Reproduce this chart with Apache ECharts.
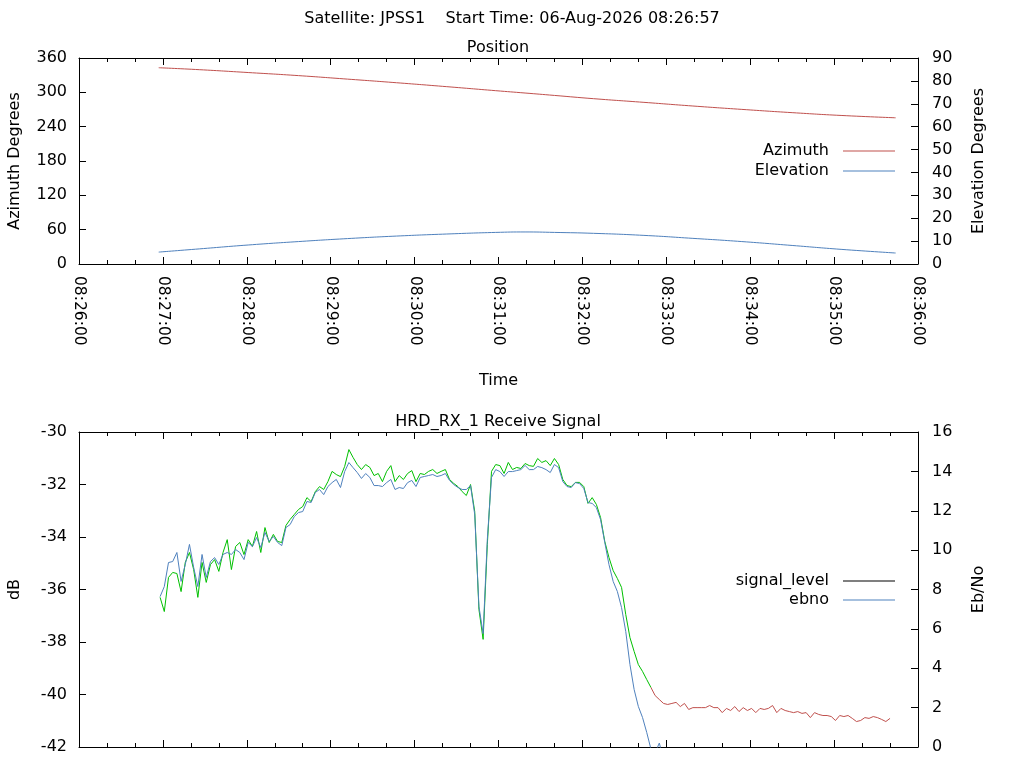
<!DOCTYPE html>
<html>
<head>
<meta charset="utf-8">
<title>JPSS1 pass</title>
<script src="https://cdn.jsdelivr.net/npm/echarts@6/dist/echarts.min.js"></script>
<style>
html, body { margin: 0; padding: 0; background: #fff; }
#chart { width: 1024px; height: 768px; }
</style>
</head>
<body>
<div id="chart"></div>
<script>
// pass of 06-Aug-2026, plot window 08:26:00 - 08:36:00
var passDate = [2026, 7, 6];
var axisStart = '08:26:00';
var axisEnd = '08:36:00';

// antenna position
var posTimes = ['08:26:57', '08:27:26', '08:28:01', '08:28:37', '08:29:12', '08:29:47',
    '08:30:23', '08:30:58', '08:31:19', '08:31:40', '08:32:08', '08:32:44', '08:33:19',
    '08:33:54', '08:34:30', '08:35:05', '08:35:44'];
var azimuth = [343.0, 339.6, 334.6, 329.2, 323.1, 316.8, 309.9, 302.9, 298.8, 294.6,
    288.9, 282.5, 276.1, 270.2, 264.5, 259.6, 255.5];
var elevation = [5.2, 6.6, 8.3, 9.8, 11.1, 12.2, 13.1, 13.8, 14.0, 13.8, 13.4, 12.5,
    11.2, 9.8, 8.1, 6.4, 4.8];

// receiver samples, one every signalStep seconds from signalStart
var signalStart = '08:26:58';
var signalStep = 3;
var signalLevel = [
    -36.30, -36.84, -35.54, -35.35, -35.39, -36.08, -34.97, -34.59, -35.24, -36.30,
    -34.97, -35.73, -35.05, -34.86, -35.31, -34.59, -34.10, -35.24, -34.36, -34.21,
    -34.67, -34.10, -34.36, -33.79, -34.59, -33.64, -34.21, -33.90, -34.17, -34.21,
    -33.56, -33.33, -33.14, -32.95, -32.84, -32.50, -32.65, -32.27, -32.08, -32.19,
    -31.89, -31.50, -31.62, -31.70, -31.31, -30.67, -30.97, -31.24, -31.43, -31.24,
    -31.35, -31.66, -31.58, -31.89, -31.50, -31.28, -31.89, -31.66, -31.81, -31.58,
    -31.47, -31.89, -31.58, -31.62, -31.50, -31.43, -31.58, -31.50, -31.43, -31.81,
    -31.96, -32.08, -32.27, -32.42, -32.00, -33.03, -36.76, -37.90, -34.29, -31.50,
    -31.24, -31.28, -31.58, -31.16, -31.43, -31.35, -31.39, -31.20, -31.28, -31.31,
    -31.01, -31.16, -31.09, -31.28, -31.01, -31.24, -31.81, -32.04, -32.08, -31.92,
    -31.92, -32.08, -32.72, -32.50, -32.76, -33.26, -34.17, -34.78, -35.28, -35.58,
    -35.92, -36.95, -37.83, -38.36, -38.86, -39.12, -39.43, -39.73, -40.04, -40.19,
    -40.34, -40.38, -40.34, -40.30, -40.46, -40.34, -40.57, -40.50, -40.50, -40.50,
    -40.50, -40.42, -40.50, -40.50, -40.69, -40.53, -40.61, -40.46, -40.65, -40.50,
    -40.61, -40.53, -40.69, -40.53, -40.57, -40.53, -40.42, -40.69, -40.53, -40.61,
    -40.65, -40.69, -40.65, -40.72, -40.69, -40.88, -40.69, -40.76, -40.80, -40.80,
    -40.84, -40.99, -40.80, -40.84, -40.80, -40.91, -41.03, -40.99, -40.88, -40.91,
    -40.84, -40.88, -40.95, -41.03, -40.91
];
var ebno = [
    7.64, 8.15, 9.37, 9.42, 9.88, 8.41, 9.27, 10.29, 9.12, 8.15,
    9.78, 8.61, 9.42, 9.62, 9.27, 9.78, 9.88, 9.78, 10.03, 9.88,
    9.52, 10.39, 10.18, 10.64, 10.13, 10.90, 10.44, 10.69, 10.39, 10.23,
    11.15, 11.30, 11.71, 11.91, 11.96, 12.47, 12.42, 12.93, 13.08, 12.82,
    13.23, 13.43, 13.59, 13.18, 13.99, 14.45, 14.19, 13.94, 13.64, 13.89,
    13.69, 13.28, 13.28, 13.23, 13.43, 13.59, 13.08, 13.18, 13.13, 13.43,
    13.54, 13.23, 13.69, 13.74, 13.79, 13.84, 13.74, 13.79, 13.89, 13.54,
    13.33, 13.18, 13.08, 13.08, 13.28, 11.81, 7.14, 5.76, 10.54, 13.69,
    14.09, 13.99, 13.74, 13.99, 13.99, 14.04, 14.09, 14.30, 14.09, 14.09,
    14.25, 14.19, 14.09, 13.94, 14.35, 14.19, 13.48, 13.23, 13.18, 13.43,
    13.38, 13.13, 12.42, 12.37, 12.16, 11.55, 10.39, 9.27, 8.41, 7.90,
    7.08, 5.87, 4.19, 2.92, 2.06, 1.50, 0.74, -0.1, -0.3, 0.2,
    -0.6
];
// receiver lost lock from here on (line drawn red)
var lockLost = '08:32:48';

var RED = '#c0504d';
var BLUE = '#4f81bd';
var GREEN = '#00c000';
var FONT = 'DejaVu Sans';
var FS = 16;

function toMs(hms) {
    var p = hms.split(':');
    return Date.UTC(passDate[0], passDate[1], passDate[2], +p[0], +p[1], +p[2]);
}
function pad(n) {
    return (n < 10 ? '0' : '') + n;
}
function fmtTime(v) {
    var d = new Date(v);
    return pad(d.getUTCHours()) + ':' + pad(d.getUTCMinutes()) + ':' + pad(d.getUTCSeconds());
}

var azData = posTimes.map(function (t, i) { return [toMs(t), azimuth[i]]; });
var elData = posTimes.map(function (t, i) { return [toMs(t), elevation[i]]; });
var t0 = toMs(signalStart);
var sigData = signalLevel.map(function (v, i) { return [t0 + i * signalStep * 1000, v]; });
var ebnoData = ebno.map(function (v, i) { return [t0 + i * signalStep * 1000, v]; });

// split signal at loss of lock, sharing the boundary sample so the line stays joined
var lockIdx = 0;
while (lockIdx < sigData.length - 1 && sigData[lockIdx][0] < toMs(lockLost)) lockIdx++;
var sigLocked = sigData.slice(0, lockIdx + 1);
var sigUnlocked = sigData.slice(lockIdx);

var textStyle = { fontFamily: FONT, fontSize: FS, color: '#000', fontWeight: 'normal' };

function timeAxis(gridIndex, position, showLabels, name) {
    return {
        type: 'value',
        gridIndex: gridIndex,
        position: position,
        min: toMs(axisStart),
        max: toMs(axisEnd),
        interval: 60000,
        name: name || '',
        nameLocation: 'middle',
        nameGap: 109,
        nameMoveOverlap: false,
        nameTextStyle: textStyle,
        axisLine: { show: true, onZero: false, lineStyle: { color: '#000', width: 1 } },
        axisTick: { show: true, inside: true, length: 7, lineStyle: { color: '#000' } },
        minorTick: { show: true, splitNumber: 3, length: 4, lineStyle: { color: '#000' } },
        splitLine: { show: false },
        axisLabel: {
            show: showLabels,
            rotate: -90,
            margin: 12,
            fontFamily: FONT,
            fontSize: 15.5,
            color: '#000',
            showMinLabel: true,
            showMaxLabel: true,
            hideOverlap: false,
            formatter: fmtTime
        }
    };
}

function valueAxis(gridIndex, position, min, max, interval, name, gap, margin) {
    return {
        type: 'value',
        gridIndex: gridIndex,
        position: position,
        min: min,
        max: max,
        interval: interval,
        name: name,
        nameLocation: 'middle',
        nameRotate: 90,
        nameGap: gap,
        nameMoveOverlap: false,
        nameTextStyle: textStyle,
        axisLine: { show: true, onZero: false, lineStyle: { color: '#000', width: 1 } },
        axisTick: { show: true, inside: true, length: 7, lineStyle: { color: '#000' } },
        splitLine: { show: false },
        axisLabel: {
            margin: margin,
            fontFamily: FONT,
            fontSize: FS,
            color: '#000',
            showMinLabel: true,
            showMaxLabel: true
        }
    };
}

function legend(top, gap, items) {
    return {
        orient: 'vertical',
        align: 'right',
        right: 129,
        top: top,
        padding: 0,
        icon: 'rect',
        itemWidth: 52,
        itemHeight: 1,
        itemGap: gap,
        selectedMode: false,
        textStyle: { fontFamily: FONT, fontSize: FS, color: '#000', padding: [0, 9, 0, 0] },
        data: items
    };
}

var chart = echarts.init(document.getElementById('chart'), null, { renderer: 'canvas' });

chart.setOption({
    animation: false,
    backgroundColor: '#fff',
    title: [
        { text: 'Satellite: JPSS1    Start Time: 06-Aug-2026 08:26:57', left: 'center', top: 11, padding: 0, textStyle: textStyle },
        { text: 'Position', left: 498, textAlign: 'center', top: 40, padding: 0, textStyle: textStyle },
        { text: 'HRD_RX_1 Receive Signal', left: 498, textAlign: 'center', top: 414, padding: 0, textStyle: textStyle }
    ],
    grid: [
        { left: 79, right: 106, top: 58, height: 206, containLabel: false, outerBoundsMode: 'none' },
        { left: 79, right: 106, top: 432, height: 315, containLabel: false, outerBoundsMode: 'none' }
    ],
    legend: [
        legend(143, 4, [
            { name: 'Azimuth', itemStyle: { color: RED } },
            { name: 'Elevation', itemStyle: { color: BLUE } }
        ]),
        legend(573, 3, [
            { name: 'signal_level', itemStyle: { color: '#000' } },
            { name: 'ebno', itemStyle: { color: BLUE } }
        ])
    ],
    xAxis: [
        timeAxis(0, 'bottom', true, 'Time'),
        timeAxis(0, 'top', false),
        timeAxis(1, 'bottom', false),
        timeAxis(1, 'top', false)
    ],
    yAxis: [
        valueAxis(0, 'left', 0, 360, 60, 'Azimuth Degrees', 56, 12),
        valueAxis(0, 'right', 0, 90, 10, 'Elevation Degrees', 53, 14),
        valueAxis(1, 'left', -42, -30, 2, 'dB', 56, 12),
        valueAxis(1, 'right', 0, 16, 2, 'Eb/No', 53, 14)
    ],
    series: [
        {
            name: 'Azimuth', type: 'line', xAxisIndex: 0, yAxisIndex: 0,
            data: azData, symbol: 'none', smooth: true,
            itemStyle: { color: RED }, lineStyle: { color: RED, width: 1 }
        },
        {
            name: 'Elevation', type: 'line', xAxisIndex: 0, yAxisIndex: 1,
            data: elData, symbol: 'none', smooth: true,
            itemStyle: { color: BLUE }, lineStyle: { color: BLUE, width: 1 }
        },
        {
            name: 'signal_level', type: 'line', xAxisIndex: 2, yAxisIndex: 2,
            data: sigLocked, symbol: 'none',
            itemStyle: { color: GREEN }, lineStyle: { color: GREEN, width: 1 }
        },
        {
            name: 'signal_level', type: 'line', xAxisIndex: 2, yAxisIndex: 2,
            data: sigUnlocked, symbol: 'none',
            itemStyle: { color: RED }, lineStyle: { color: RED, width: 1 }
        },
        {
            name: 'ebno', type: 'line', xAxisIndex: 2, yAxisIndex: 3,
            data: ebnoData, symbol: 'none', clip: true,
            itemStyle: { color: BLUE }, lineStyle: { color: BLUE, width: 1 }
        }
    ]
});
</script>
</body>
</html>
